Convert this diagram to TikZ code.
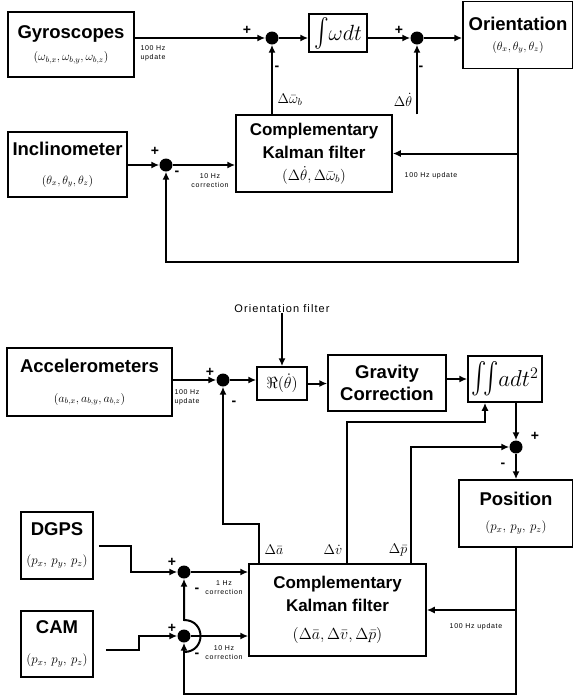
\RequirePackage{fix-cm}
\documentclass[tikz,border=0pt]{standalone}
\usepackage{amsmath}
\usepackage{amssymb}
\usepackage{graphicx}
\usepackage{fontspec}
\setsansfont{Liberation Sans}
\newfontfamily\notefont[LetterSpace=10]{Liberation Sans}
\usetikzlibrary{arrows.meta}

\newcommand{\fsz}[2]{\fontsize{#1}{#2}\selectfont}

\tikzset{
  block/.style={draw, line width=1.5pt, align=center, inner sep=0pt, font=\sffamily\bfseries\fsz{18.5}{22}},
  sumdot/.style={circle, fill=black, inner sep=0pt, minimum size=13pt},
  wire/.style={line width=2pt},
  arr/.style={wire, -{Latex[length=8pt,width=7pt]}},
  sgn/.style={font=\sffamily\bfseries\fsz{14}{14}, inner sep=0pt},
  note/.style={font=\notefont\fsz{7}{9}, align=center, inner sep=0pt},
  dlab/.style={font=\fsz{14}{14}, inner sep=0pt},
}

\begin{document}
\begin{tikzpicture}[x=1pt,y=-1pt]
\useasboundingbox (0,0) rectangle (573,697);
% orientation loop
\node[block, minimum width=126pt, minimum height=65pt] (gyro) at (71,44.5) {Gyroscopes\\[0pt]\fsz{12}{12}$(\omega_{b,x},\omega_{b,y},\omega_{b,z})$};
\node[sumdot] (s1) at (272,38) {};
\node[block, minimum width=58pt, minimum height=38pt, font=\fsz{22}{22}] (integ1) at (338,33) {$\scalebox{1}[1.3]{$\int$}\omega dt$};
\node[sumdot] (s2) at (417,38) {};
\node[block, minimum width=110pt, minimum height=67pt] (orient) at (518,35) {Orientation\\[-2pt]\fsz{12}{12}$(\theta_x,\theta_y,\theta_z)$};
\node[block, minimum width=119pt, minimum height=65pt] (incl) at (67.5,164.5) {Inclinometer\\[7pt]\fsz{12}{12}$(\theta_x,\theta_y,\theta_z)$};
\node[sumdot] (s3) at (166,165) {};
\node[block, minimum width=156pt, minimum height=77pt, font=\sffamily\bfseries\fsz{17}{23}] (kal1) at (314,153.5) {Complementary\\Kalman filter\\[-1pt]\fsz{15}{15}$(\Delta\dot\theta,\Delta\bar\omega_b)$};

\node[sgn] (p1) at (247,30) {+};
\node[sgn] (m1) at (277,68) {-};
\node[sgn] (p2) at (399,30) {+};
\node[sgn] (m2) at (421,68) {-};
\node[sgn] (p3) at (155,151) {+};
\node[sgn] (m3) at (177,173) {-};
\node[dlab] (dw) at (290,100) {$\Delta\bar\omega_b$};
\node[dlab] (dth) at (403,100) {$\Delta\dot\theta$};
\node[note, align=left] (n1) at (153,53) {100 Hz\\update};
\node[note] (n2) at (210,181) {10 Hz\\correction};
\node[note] (n3) at (431,176) {100 Hz update};

\coordinate (fb1) at (521,262);
\draw[arr] (gyro.east |- s1) -- (s1);
\draw[arr] (s1) -- (s1 -| integ1.west);
\draw[arr] (s1 -| integ1.east) -- (s2);
\draw[arr] (s2) -- (s2 -| orient.west);
\draw[arr] (kal1.north -| s1) -- (s1);
\draw[arr] (kal1.north -| s2) -- (s2);
\draw[arr] (incl.east |- s3) -- (s3);
\draw[arr] (s3) -- (s3 -| kal1.west);
\draw[arr] (orient.south) |- (kal1.east);
\draw[arr] (orient.south) -- (orient.south |- fb1) -| (s3);

% position loop
\node[font=\notefont\fsz{11}{11}, inner sep=0pt] (ofilt) at (282,309) {Orientation filter};
\node[block, minimum width=165pt, minimum height=68pt] (accel) at (89.5,382) {Accelerometers\\[8pt]\fsz{12}{12}$(a_{b,x},a_{b,y},a_{b,z})$};
\node[sumdot] (s4) at (223,380) {};
\node[block, minimum width=50pt, minimum height=33pt, font=\fsz{16}{16}] (rot) at (282,383.5) {$\Re(\dot\theta)$};
\node[block, minimum width=118pt, minimum height=56pt] (grav) at (387,383) {Gravity\\Correction};
\node[block, minimum width=74pt, minimum height=46pt, font=\fsz{23}{23}] (integ2) at (505,379) {$\scalebox{1}[1.35]{$\iint$}adt^2$};
\node[sumdot] (s5) at (516,447) {};
\node[block, minimum width=114pt, minimum height=67pt] (pos) at (516,513.5) {Position\\[3pt]\fsz{13}{13}$(p_x,\,p_y,\,p_z)$};
\node[block, minimum width=72pt, minimum height=67pt] (dgps) at (57,545.5) {DGPS\\[7pt]\fsz{13}{13}$(p_x,\,p_y,\,p_z)$};
\node[block, minimum width=72pt, minimum height=66pt] (cam) at (57,644) {CAM\\[8pt]\fsz{13}{13}$(p_x,\,p_y,\,p_z)$};
\node[sumdot] (s6) at (184,572) {};
\node[sumdot] (s7) at (184,636) {};
\node[block, minimum width=177pt, minimum height=92pt, font=\sffamily\bfseries\fsz{17}{23}] (kal2) at (337.5,610) {Complementary\\Kalman filter\\[5pt]\fsz{16}{16}$(\Delta\bar a,\Delta\bar v,\Delta\bar p)$};

\node[sgn] (p4) at (210,372) {+};
\node[sgn] (m4) at (234,403) {-};
\node[sgn] (p5) at (535,436) {+};
\node[sgn] (m5) at (503,465) {-};
\node[sgn] (p6) at (172,562) {+};
\node[sgn] (m6) at (197,590) {-};
\node[sgn] (p7) at (172,628) {+};
\node[sgn] (m7) at (197,655) {-};
\node[dlab] (da) at (274,550) {$\Delta\bar a$};
\node[dlab] (dv) at (333,550) {$\Delta\dot v$};
\node[dlab] (dp) at (398,550) {$\Delta\bar p$};
\node[note, align=left] (n4) at (187,397) {100 Hz\\update};
\node[note] (n5) at (224,588) {1 Hz\\correction};
\node[note] (n6) at (224,653) {10 Hz\\correction};
\node[note] (n7) at (476,627) {100 Hz update};

\coordinate (atap) at (259,564);
\coordinate (vtap) at (347,564);
\coordinate (ptap) at (411,564);
\coordinate (abend) at (223,524);
\coordinate (vbend) at (485,422);
\coordinate (fb2) at (516,694);
\coordinate (hopa) at (184,652);
\coordinate (hopb) at (184,620);
\draw[arr] (ofilt) -- (rot);
\draw[arr] (accel.east |- s4) -- (s4);
\draw[arr] (s4) -- (s4 -| rot.west);
\draw[arr] (rot.east) -- (rot.east -| grav.west);
\draw[arr] (grav.east |- integ2.west) -- (integ2.west);
\draw[arr] (integ2.south -| s5) -- (s5);
\draw[arr] (s5) -- (pos);
\draw[arr] (atap) |- (abend) -- (s4);
\draw[arr] (vtap) |- (vbend) -- (vbend |- integ2.south);
\draw[arr] (ptap) |- (s5);
\draw[arr] (pos.south) |- (kal2.east);
\draw[arr] (pos.south) -- (fb2) -| (s7);
\draw[arr] (hopa) .. controls (206,652) and (206,620) .. (hopb) -- (s6);
\draw[arr] ([xshift=5pt]dgps.east) -- ++(32,0) |- (s6);
\draw[arr] ([xshift=12pt,yshift=-6pt]cam.east) -- ++(33,0) |- (s7);
\draw[arr] (s6) -- (s6 -| kal2.west);
\draw[arr] (s7) -- (s7 -| kal2.west);
\end{tikzpicture}
\end{document}
